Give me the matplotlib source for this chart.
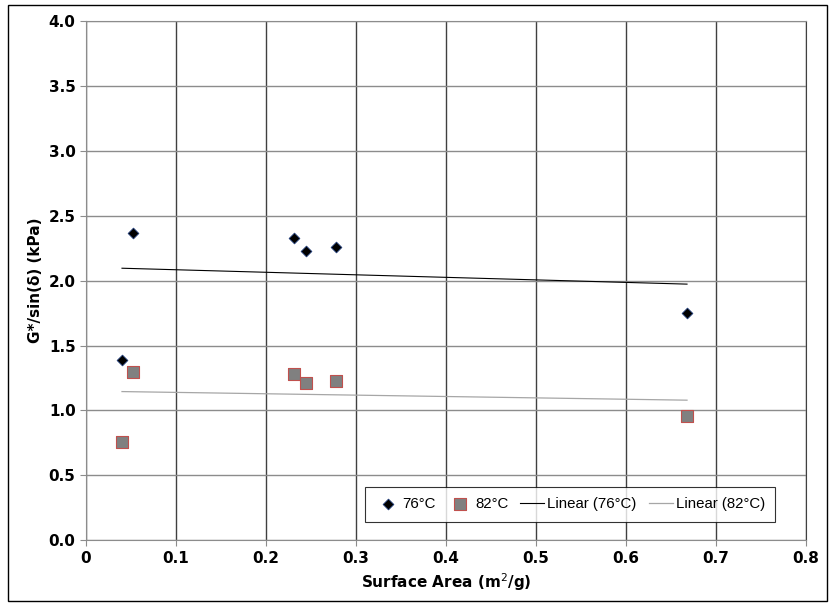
import numpy as np
import matplotlib
matplotlib.use('Agg')
import matplotlib.pyplot as plt
from matplotlib.patches import Rectangle

# data
area = [0.040, 0.052, 0.231, 0.245, 0.278, 0.668]
g76 = [1.39, 2.37, 2.33, 2.23, 2.26, 1.75]
g82 = [0.76, 1.30, 1.28, 1.21, 1.23, 0.96]

plt.rcParams['font.family'] = ['Liberation Sans', 'DejaVu Sans']

fig = plt.figure(figsize=(8.35, 6.07), dpi=100)
ax = fig.add_axes([0.103, 0.110, 0.862, 0.855])

# outer frame
fig.patches.append(Rectangle((0.009, 0.01), 0.982, 0.982, transform=fig.transFigure,
                             fill=False, edgecolor='black', linewidth=1.0))

ax.scatter(area, g76, marker='D', s=30, color='black', edgecolors='#1f3c78',
           linewidths=0.6, zorder=4, label='76°C')
ax.scatter(area, g82, marker='s', s=80, color='#808080', edgecolors='#c0504d',
           linewidths=0.8, zorder=4, label='82°C')

# linear trendlines
xs = np.array([min(area), max(area)])
p76 = np.polyfit(area, g76, 1)
p82 = np.polyfit(area, g82, 1)
ax.plot(xs, np.polyval(p76, xs), color='black', linewidth=0.8, label='Linear (76°C)', zorder=3)
ax.plot(xs, np.polyval(p82, xs), color='#a6a6a6', linewidth=0.9, label='Linear (82°C)', zorder=3)

ax.set_xlim(0, 0.8)
ax.set_ylim(0, 4.0)
ax.set_xticks(np.arange(0, 0.81, 0.1))
ax.set_xticklabels(['0', '0.1', '0.2', '0.3', '0.4', '0.5', '0.6', '0.7', '0.8'])
ax.set_yticks(np.arange(0, 4.01, 0.5))
ax.set_yticklabels(['%.1f' % v for v in np.arange(0, 4.01, 0.5)])

ax.xaxis.grid(True, color='#404040', linewidth=1.0)
ax.yaxis.grid(True, color='#8c8c8c', linewidth=1.0)
ax.set_axisbelow(True)
for s in ['left', 'bottom']:
    ax.spines[s].set_color('#8c8c8c')
ax.spines['top'].set_color('#8c8c8c')
ax.spines['right'].set_color('#404040')
ax.tick_params(direction='out', length=4, color='#8c8c8c', labelsize=11)
for lbl in ax.get_xticklabels() + ax.get_yticklabels():
    lbl.set_fontweight('bold')
    lbl.set_family('DejaVu Sans')

ax.set_xlabel('Surface Area (m$^2$/g)', fontsize=11, fontweight='bold', family='DejaVu Sans')
ax.set_ylabel('G*/sin(δ) (kPa)', fontsize=11, fontweight='bold', family='DejaVu Sans')

leg = ax.legend(loc='lower right', bbox_to_anchor=(0.962, 0.03), ncol=4, fontsize=10.8,
                frameon=True, fancybox=False, handlelength=1.6, handletextpad=0.2,
                columnspacing=0.8, borderpad=0.7, borderaxespad=0.2)
leg.get_frame().set_edgecolor('black')
leg.get_frame().set_linewidth(0.8)

plt.savefig('out.png', dpi=100)
